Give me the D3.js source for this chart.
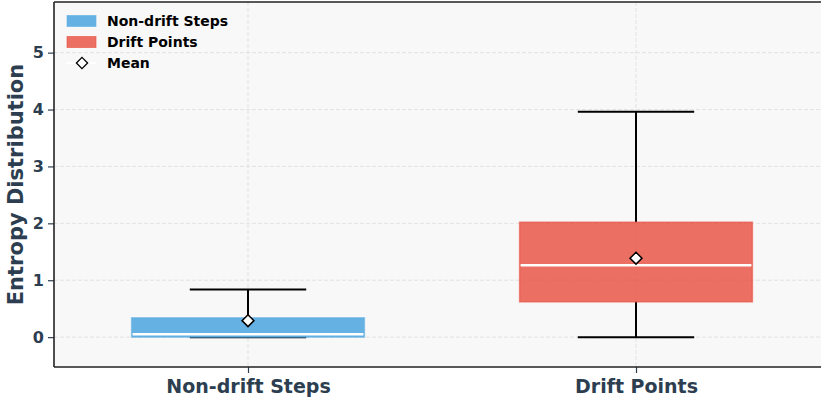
<!DOCTYPE html>
<html>
<head>
<meta charset="utf-8">
<script src="https://cdn.jsdelivr.net/npm/d3@7"></script>
<style>
  html, body { margin: 0; padding: 0; background: #ffffff; }
  svg { display: block; font-family: "DejaVu Sans", sans-serif; }
</style>
</head>
<body>
<svg id="chart" width="821" height="402"></svg>
<script>
// Box summaries of entropy per group
const categories = ["Non-drift Steps", "Drift Points"];
const whiskerLow = [0.0, 0.0];
const q1 = [0.0, 0.62];
const medians = [0.05, 1.265];
const q3 = [0.34, 2.02];
const whiskerHigh = [0.835, 3.96];
const means = [0.29, 1.387];
const yTicks = [0, 1, 2, 3, 4, 5];

const fills = ["#5DADE2", "#E74C3C"];
const fillOpacity = [0.95, 0.8];
const textColor = "#2C3E50";
const FONT = "DejaVu Sans";

const svg = d3.select("#chart");
const margin = { left: 54, top: 2, right: -9, bottom: 35 };
const W = 821, H = 402;
const plotW = W - margin.left - margin.right;
const plotH = H - margin.top - margin.bottom;

const x = d3.scaleLinear().domain([0.5, 2.5]).range([margin.left, margin.left + plotW]);
const y = d3.scaleLinear().domain([-0.525, 5.89]).range([margin.top + plotH, margin.top]);

// plot background
svg.append("rect")
  .attr("x", margin.left).attr("y", margin.top)
  .attr("width", plotW).attr("height", plotH)
  .attr("fill", "#f8f8f8");

// grid
const grid = svg.append("g");
grid.selectAll("line.gy").data(yTicks).join("line")
  .attr("x1", margin.left).attr("x2", margin.left + plotW)
  .attr("y1", d => y(d)).attr("y2", d => y(d))
  .attr("stroke", "#dcdcdc").attr("stroke-width", 0.8).attr("stroke-dasharray", "4,2");
grid.selectAll("line.gx").data(categories).join("line")
  .attr("x1", (d, i) => x(i + 1)).attr("x2", (d, i) => x(i + 1))
  .attr("y1", margin.top).attr("y2", margin.top + plotH)
  .attr("stroke", "#dcdcdc").attr("stroke-width", 0.8).attr("stroke-dasharray", "4,2");

const boxHalf = 0.3, capHalf = 0.15;
const g = svg.append("g");

categories.forEach((c, i) => {
  const cx = x(i + 1);
  // whisker stems
  g.append("line").attr("x1", cx).attr("x2", cx)
    .attr("y1", y(q3[i])).attr("y2", y(whiskerHigh[i]))
    .attr("stroke", "#000").attr("stroke-width", 2);
  g.append("line").attr("x1", cx).attr("x2", cx)
    .attr("y1", y(q1[i])).attr("y2", y(whiskerLow[i]))
    .attr("stroke", "#000").attr("stroke-width", 2);
  // caps
  [whiskerHigh[i], whiskerLow[i]].forEach(v => {
    g.append("line")
      .attr("x1", x(i + 1 - capHalf)).attr("x2", x(i + 1 + capHalf))
      .attr("y1", y(v)).attr("y2", y(v))
      .attr("stroke", "#000").attr("stroke-width", 2);
  });
  // box
  g.append("rect")
    .attr("x", x(i + 1 - boxHalf)).attr("y", y(q3[i]))
    .attr("width", x(i + 1 + boxHalf) - x(i + 1 - boxHalf))
    .attr("height", y(q1[i]) - y(q3[i]))
    .attr("fill", fills[i]).attr("fill-opacity", fillOpacity[i])
    .attr("stroke", fills[i]).attr("stroke-opacity", 0.6).attr("stroke-width", 1.5);
  // median
  g.append("line")
    .attr("x1", x(i + 1 - boxHalf) + 1).attr("x2", x(i + 1 + boxHalf) - 1)
    .attr("y1", y(medians[i])).attr("y2", y(medians[i]))
    .attr("stroke", "#ffffff").attr("stroke-width", 2.5);
  // mean
  g.append("path")
    .attr("d", d3.symbol().type(d3.symbolDiamond2).size(90)())
    .attr("transform", `translate(${cx},${y(means[i])})`)
    .attr("fill", "#ffffff").attr("stroke", "#000").attr("stroke-width", 1.5);
});

// axes
const yAxis = svg.append("g")
  .attr("transform", `translate(${margin.left},0)`)
  .call(d3.axisLeft(y).tickValues(yTicks).tickFormat(d3.format("d")).tickSize(6).tickPadding(4));
yAxis.select(".domain").remove();
yAxis.attr("font-family", FONT).attr("font-size", 16).attr("font-weight", 700);
yAxis.selectAll(".tick line").attr("stroke", textColor).attr("stroke-width", 1.2);
yAxis.selectAll("text").attr("fill", textColor);

const xAxis = svg.append("g")
  .attr("transform", `translate(0,${margin.top + plotH})`)
  .call(d3.axisBottom(x).tickValues([1, 2]).tickFormat((d) => categories[d - 1]).tickSize(6).tickPadding(7));
xAxis.select(".domain").remove();
xAxis.attr("font-family", FONT).attr("font-size", 19).attr("font-weight", 700);
xAxis.selectAll(".tick line").attr("stroke", textColor).attr("stroke-width", 1.2);
xAxis.selectAll("text").attr("fill", textColor);

// spines
svg.append("line").attr("x1", margin.left).attr("x2", margin.left)
  .attr("y1", margin.top).attr("y2", margin.top + plotH)
  .attr("stroke", "#222").attr("stroke-width", 1.6);
svg.append("line").attr("x1", margin.left).attr("x2", W)
  .attr("y1", margin.top).attr("y2", margin.top)
  .attr("stroke", "#222").attr("stroke-width", 1.6);
svg.append("line").attr("x1", margin.left).attr("x2", W)
  .attr("y1", margin.top + plotH).attr("y2", margin.top + plotH)
  .attr("stroke", "#222").attr("stroke-width", 1.6);

// y label
svg.append("text")
  .attr("transform", `translate(23,${margin.top + plotH / 2}) rotate(-90)`)
  .attr("text-anchor", "middle")
  .attr("font-family", FONT)
  .attr("fill", textColor).attr("font-size", 21).attr("font-weight", 700)
  .text("Entropy Distribution");

// legend
const legend = svg.append("g").attr("font-family", FONT);
const legendItems = [
  { label: categories[0], type: "patch", color: fills[0], op: fillOpacity[0] },
  { label: categories[1], type: "patch", color: fills[1], op: fillOpacity[1] },
  { label: "Mean", type: "marker" }
];
legendItems.forEach((d, i) => {
  const cy = 21 + i * 21;
  if (d.type === "patch") {
    legend.append("rect").attr("x", 67).attr("y", cy - 5.5).attr("width", 29).attr("height", 11)
      .attr("fill", d.color).attr("fill-opacity", d.op)
      .attr("stroke", d.color).attr("stroke-opacity", 0.6);
  } else {
    legend.append("line").attr("x1", 67).attr("x2", 96).attr("y1", cy).attr("y2", cy)
      .attr("stroke", "#ffffff").attr("stroke-width", 2);
    legend.append("path")
      .attr("d", d3.symbol().type(d3.symbolDiamond2).size(80)())
      .attr("transform", `translate(82,${cy})`)
      .attr("fill", "#ffffff").attr("stroke", "#000").attr("stroke-width", 1.3);
  }
  legend.append("text").attr("x", 107).attr("y", cy).attr("dy", "0.35em")
    .attr("fill", "#000").attr("font-size", 14).attr("font-weight", 700)
    .text(d.label);
});
</script>
</body>
</html>
